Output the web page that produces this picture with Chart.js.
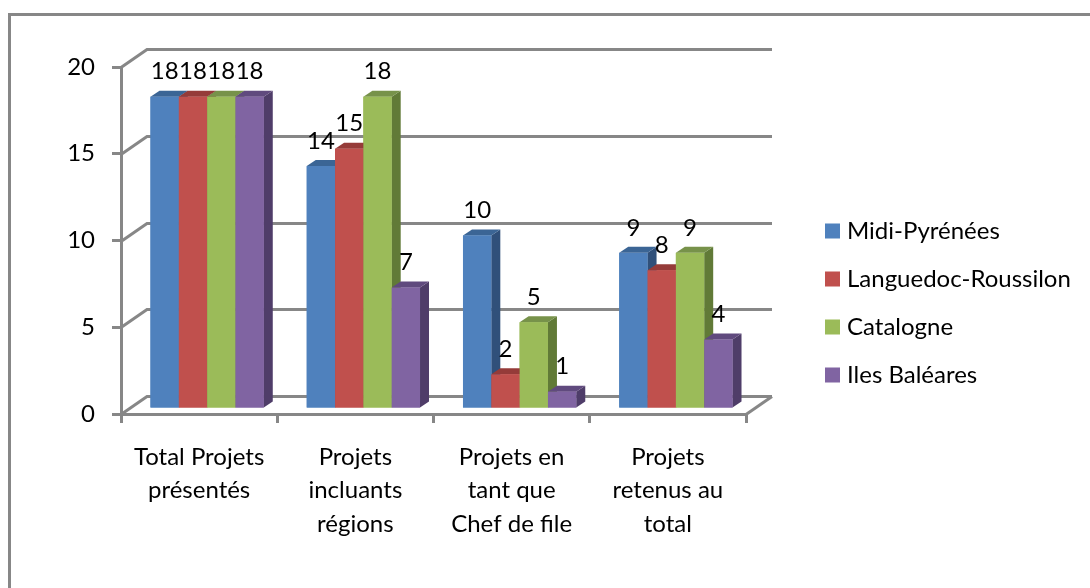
<!DOCTYPE html>
<html><head><meta charset="utf-8">
<script src="https://cdn.jsdelivr.net/npm/chart.js@4.4.0/dist/chart.umd.min.js"></script>
<style>html,body{margin:0;padding:0;background:#fff;} #wrap{position:relative;width:1090px;height:588px;} canvas{display:block}</style>
</head><body><div id="wrap"><canvas id="c" width="1090" height="588"></canvas></div>
<script>
// ---- data ----
const categories = [["Total Projets","présentés"],["Projets","incluants","régions"],["Projets en","tant que","Chef de file"],["Projets","retenus au","total"]];
const seriesNames = ["Midi-Pyrénées","Languedoc-Roussilon","Catalogne","Iles Baléares"];
const midiPyrenees = [18,14,10,9];
const languedocRoussilon = [18,15,2,8];
const catalogne = [18,18,5,9];
const ilesBaleares = [18,7,1,4];
const yTicks = [0,5,10,15,20];

// ---- styles ----
const FONT = 'Lato, "Open Sans", sans-serif';
const FS = 24;
const frontColors = ['#4F81BD','#C0504D','#9BBB59','#8064A2'];
const topColors   = ['#3B6595','#953B39','#77924A','#604A7E'];
const sideColors  = ['#30507A','#7C302E','#617A37','#4F3D69'];
const GRID = '#878787';
const WALL = {dx:26, dy:-18};
const BARD = {dx:9, dy:-6};
const SHIFT = {dx:8, dy:-5};
const LEGEND = {x:825, y:231, row:48, box:15, gap:7};

const seriesValues = [midiPyrenees, languedocRoussilon, catalogne, ilesBaleares];

const threeD = {
  id:'threeD',
  beforeDraw(chart){
    const ctx = chart.ctx;
    ctx.save();
    ctx.fillStyle='#fff'; ctx.fillRect(0,0,chart.width,chart.height);
    ctx.strokeStyle=GRID; ctx.lineWidth=3;
    ctx.beginPath(); ctx.moveTo(9.5, chart.height); ctx.lineTo(9.5,14.5); ctx.lineTo(chart.width,14.5); ctx.stroke();
    ctx.restore();
  },
  beforeDatasetsDraw(chart){
    const {ctx, chartArea:a, scales:{y}} = chart;
    ctx.save();
    ctx.strokeStyle=GRID; ctx.lineWidth=3;
    yTicks.forEach(v=>{
      const py = Math.round(y.getPixelForValue(v))+0.5;
      ctx.beginPath();
      ctx.moveTo(a.left, py);
      ctx.lineTo(a.left+WALL.dx, py+WALL.dy);
      ctx.lineTo(a.right+WALL.dx, py+WALL.dy);
      ctx.stroke();
    });
    const p0 = Math.round(y.getPixelForValue(0))+0.5;
    ctx.beginPath(); ctx.moveTo(a.right, p0); ctx.lineTo(a.right+WALL.dx, p0+WALL.dy); ctx.stroke();
    ctx.restore();
    ctx.save();
    ctx.translate(SHIFT.dx, SHIFT.dy);
  },
  afterDatasetsDraw(chart){
    const ctx = chart.ctx;
    const n = chart.data.labels.length;
    for (let c=0;c<n;c++){
      chart.data.datasets.forEach((ds,i)=>{
        const el = chart.getDatasetMeta(i).data[c];
        const {x,y,base,width} = el.getProps(['x','y','base','width'], true);
        const l = x-width/2, r = x+width/2;
        ctx.fillStyle = sideColors[i];
        ctx.beginPath();
        ctx.moveTo(r,y); ctx.lineTo(r+BARD.dx,y+BARD.dy); ctx.lineTo(r+BARD.dx,base+BARD.dy); ctx.lineTo(r,base); ctx.closePath(); ctx.fill();
        ctx.fillStyle = topColors[i];
        ctx.beginPath();
        ctx.moveTo(l,y); ctx.lineTo(l+BARD.dx,y+BARD.dy); ctx.lineTo(r+BARD.dx,y+BARD.dy); ctx.lineTo(r,y); ctx.closePath(); ctx.fill();
        ctx.fillStyle = frontColors[i];
        ctx.fillRect(l, y, width, base-y);
      });
    }
    // value labels
    ctx.fillStyle='#000';
    ctx.font = FS+'px '+FONT;
    ctx.textAlign='center'; ctx.textBaseline='middle';
    chart.data.datasets.forEach((ds,i)=>{
      chart.getDatasetMeta(i).data.forEach((el,c)=>{
        const {x,y} = el.getProps(['x','y'], true);
        ctx.fillText(String(ds.data[c]), x, y-25);
      });
    });
    ctx.restore();
  },
  afterDraw(chart){
    const ctx = chart.ctx;
    ctx.save();
    ctx.font = FS+'px '+FONT;
    ctx.textAlign='left'; ctx.textBaseline='middle';
    chart.data.datasets.forEach((ds,i)=>{
      const cy = LEGEND.y + i*LEGEND.row;
      ctx.fillStyle = ds.backgroundColor;
      ctx.fillRect(LEGEND.x, cy-LEGEND.box/2, LEGEND.box, LEGEND.box);
      ctx.fillStyle = '#000';
      ctx.fillText(ds.label, LEGEND.x+LEGEND.box+LEGEND.gap, cy);
    });
    ctx.restore();
  }
};

new Chart(document.getElementById('c'), {
  type:'bar',
  data:{
    labels: categories,
    datasets: seriesNames.map((name,i)=>({
      label:name, data:seriesValues[i], backgroundColor:frontColors[i],
      borderWidth:0, barPercentage:1.0, categoryPercentage:0.725, clip:false
    }))
  },
  options:{
    responsive:false, animation:false, devicePixelRatio:1,
    layout:{padding:{left:0, top:67, right:344, bottom:0}},
    plugins:{legend:{display:false}, tooltip:{enabled:false}},
    scales:{
      x:{
        grid:{display:true, drawOnChartArea:false, drawTicks:true, tickLength:9, color:GRID, lineWidth:3, offset:true},
        border:{display:true, color:GRID, width:3},
        ticks:{font:{family:FONT, size:FS, lineHeight:1.4}, color:'#000', padding:17, maxRotation:0, autoSkip:false},
        afterFit(s){ s.height = 174; }
      },
      y:{
        min:0, max:20,
        afterBuildTicks(s){ s.ticks = yTicks.map(v=>({value:v})); },
        grid:{display:true, drawOnChartArea:false, drawTicks:true, tickLength:9, color:GRID, lineWidth:3},
        border:{display:true, color:GRID, width:3},
        ticks:{font:{family:FONT, size:FS}, color:'#000', padding:17},
        afterFit(s){ s.width = 121; }
      }
    }
  },
  plugins:[threeD]
});
</script></body></html>
